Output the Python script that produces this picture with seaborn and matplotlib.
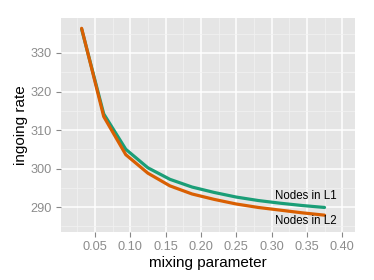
import numpy as np
import pandas as pd
import matplotlib
matplotlib.use("Agg")
import matplotlib.pyplot as plt
import seaborn as sns
from matplotlib.ticker import MultipleLocator

# data
mixing = [0.03125, 0.0625, 0.09375, 0.125, 0.15625, 0.1875, 0.21875,
          0.25, 0.28125, 0.3125, 0.34375, 0.375]
rate_L1 = [336.2, 314.2, 305.0, 300.2, 297.2, 295.2, 293.8,
           292.6, 291.7, 291.0, 290.4, 289.9]
rate_L2 = [336.4, 313.5, 303.6, 298.8, 295.5, 293.4, 292.0,
           290.8, 289.9, 289.2, 288.5, 287.9]
series = ["Nodes in L1", "Nodes in L2"]
x_ticks = [0.05, 0.10, 0.15, 0.20, 0.25, 0.30, 0.35, 0.40]
y_ticks = [290, 300, 310, 320, 330]

df = pd.DataFrame({
    "mixing": mixing * 2,
    "rate": rate_L1 + rate_L2,
    "series": [series[0]] * len(mixing) + [series[1]] * len(mixing),
})

sns.set_theme(style="darkgrid", rc={
    "axes.facecolor": "#E5E5E5",
    "grid.color": "white",
    "axes.edgecolor": "#E5E5E5",
})
plt.rcParams["font.family"] = ["Liberation Sans", "DejaVu Sans"]

fig = plt.figure(figsize=(3.74, 2.80), dpi=100)
ax = fig.add_axes([0.163, 0.171, 0.786, 0.765])

sns.lineplot(data=df, x="mixing", y="rate", hue="series",
             palette={"Nodes in L1": "#1B9E77", "Nodes in L2": "#D95F02"},
             linewidth=2.3, ax=ax, legend=False)

ax.set_xlim(0.002, 0.418)
ax.set_ylim(283.5, 339.1)
ax.set_xticks(x_ticks)
ax.set_xticklabels([f"{t:.2f}" for t in x_ticks])
ax.set_yticks(y_ticks)
ax.xaxis.set_minor_locator(MultipleLocator(0.025))
ax.yaxis.set_minor_locator(MultipleLocator(5))
ax.grid(which="major", color="white", linewidth=1.1)
ax.grid(which="minor", color="#F2F2F2", linewidth=0.5)
ax.set_axisbelow(True)
for s in ax.spines.values():
    s.set_visible(False)
ax.tick_params(axis="both", which="major", length=3.5, width=0.8,
               color="#888888", labelcolor="#8C8C8C", labelsize=9.2,
               pad=3, direction="out", bottom=True, left=True)
ax.tick_params(axis="both", which="minor", length=0)

ax.set_xlabel("mixing parameter", fontsize=11, color="black", labelpad=2)
ax.set_ylabel("ingoing rate", fontsize=11, color="black", labelpad=1.5)

ax.text(0.349, 292.9, series[0], ha="center", va="center", fontsize=8.3, color="black")
ax.text(0.349, 286.4, series[1], ha="center", va="center", fontsize=8.3, color="black")

fig.savefig("out.png", dpi=100, facecolor="white")
